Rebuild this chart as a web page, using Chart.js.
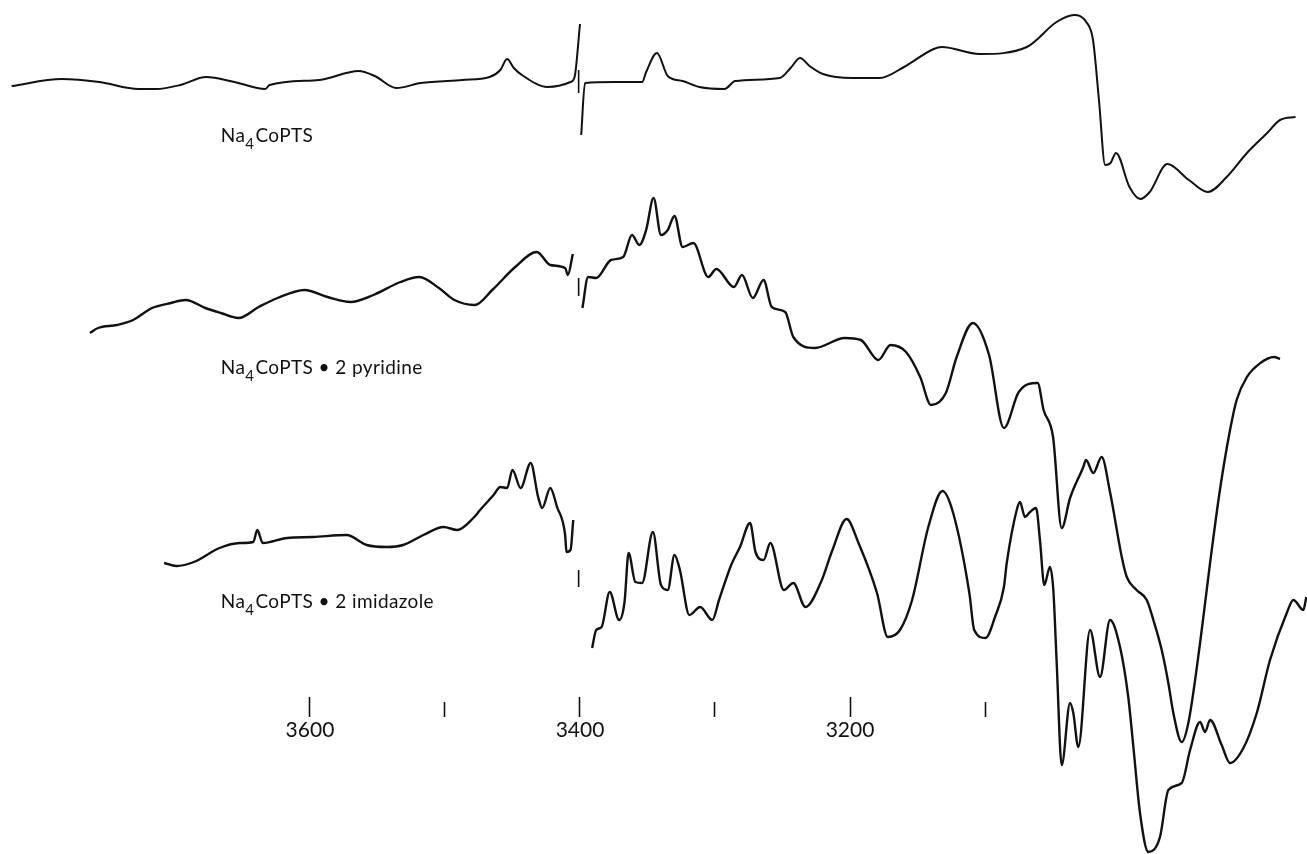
<!DOCTYPE html>
<html>
<head>
<meta charset="utf-8">
<script src="https://cdn.jsdelivr.net/npm/chart.js@4.4.1/dist/chart.umd.min.js"></script>
<style>
  html, body { margin: 0; padding: 0; background: #fff; }
  #wrap { width: 1307px; height: 854px; position: relative; }
</style>
</head>
<body>
<div id="wrap"><canvas id="chart"></canvas></div>
<script>
// magnetic field (G) and derivative signal (arb. units)
const field1 = [3821, 3784, 3756, 3727, 3714, 3696, 3677, 3656, 3633, 3630, 3593, 3564, 3552, 3536, 3518, 3487, 3467, 3459, 3454, 3449, 3443, 3424, 3407, 3404, 3400, 3399.6, 3399.1, 3396.3, 3374, 3354, 3351, 3343, 3335, 3324, 3311.5, 3293, 3285, 3252, 3244, 3237, 3230, 3220, 3198, 3178, 3160, 3138, 3132, 3104, 3069, 3047, 3034, 3025, 3020, 3015.6, 3011, 3007, 3003, 2993, 2985, 2978, 2965, 2949, 2935, 2921, 2906, 2891, 2881.5, 2870];
const signal1 = [-1, 6, 3, -4, -4, 0, 8, 3, -4, 0, 5, 14, 9, -3, 2, 5, 8, 15, 26, 17, 10, -2, 3, 8, 61, null, -50, 2, 3, 3, 13, 32, 9, 4, -2, -4, 4, 7, 17, 27, 19, 11, 7, 7, 18, 36, 38, 31, 38, 63, 70, 63, 45, -15, -80, -78, -68, -102, -114, -107, -79, -95, -107, -92, -68, -48, -35, -32];

const field2 = [3763, 3757, 3743, 3731, 3717, 3703, 3692, 3677.5, 3666, 3653, 3638, 3624, 3604, 3587, 3570, 3553, 3533, 3519, 3504.5, 3493, 3478, 3465, 3448, 3432, 3422, 3411, 3409, 3405.3, 3402, 3398.2, 3394, 3388, 3377, 3368, 3361.5, 3356, 3351, 3345.5, 3340, 3335, 3330, 3324, 3316, 3305, 3299, 3286, 3280, 3272, 3264, 3258, 3248, 3242, 3226, 3204, 3192, 3179, 3170, 3158.5, 3148, 3140, 3129, 3121, 3109, 3097, 3086, 3075, 3061, 3056.6, 3049.6, 3043.2, 3037, 3027.2, 3025.2, 3019.8, 3013.6, 3007.4, 2998.7, 2995, 2987.7, 2980.2, 2975.3, 2969.1, 2964.2, 2960.5, 2954.3, 2949.4, 2940.7, 2933.3, 2926, 2918.5, 2913.6, 2906, 2896, 2886, 2881.5];
const signal2 = [-33, -28, -25, -20, -8, -3, 0, -8, -13, -18, -7, 2, 10, 3, -2, 5, 18, 23, 12, 0, -5, 10, 33, 48, 35, 32, 25, 46, null, -8, 23, 22, 40, 43, 65, 55, 70, 102, 65, 70, 84, 53, 57, 23, 31, 13, 25, 2, 20, -7, -12, -37, -48, -38, -40, -60, -45, -52, -77, -105, -93, -57, -23, -55, -128, -92, -83, -110, -137, -228, -198, -167, -160, -173, -157, -192, -257, -277, -290, -300, -320, -350, -383, -413, -442, -423, -343, -263, -190, -130, -100, -77, -63, -57, -59];

const field3 = [3708, 3699, 3686, 3667, 3652, 3642, 3639, 3635, 3617, 3598, 3573, 3558, 3543, 3531, 3516, 3501, 3491, 3479, 3474, 3464, 3459, 3454, 3450, 3444, 3436.5, 3431, 3428, 3422, 3417, 3411, 3410, 3407, 3405, 3398, 3391, 3388, 3384, 3378, 3371, 3367, 3364, 3359, 3354, 3346, 3340, 3335, 3330, 3326, 3319, 3311, 3302, 3297, 3288, 3281.5, 3274, 3270, 3264, 3259, 3249, 3242, 3233, 3221.5, 3213, 3202.5, 3194, 3180, 3172, 3163, 3154, 3142, 3131.5, 3123.6, 3111.6, 3108, 3099.6, 3092.6, 3086, 3083.9, 3076.5, 3074.1, 3070.4, 3066.7, 3062.2, 3059.3, 3056.1, 3051.9, 3049.4, 3046.9, 3043.2, 3037, 3034.6, 3030.9, 3022.2, 3014.8, 3007.4, 3000, 2993.9, 2990.1, 2985.2, 2979, 2970.4, 2964.2, 2954.3, 2948.1, 2940.7, 2937, 2933.3, 2924.7, 2918.5, 2908.6, 2898.7, 2888.9, 2876.5, 2871.6, 2864.2, 2862];
const signal3 = [-18, -21, -17, -3, 2, 3, 15, 2, 7, 8, 10, 0, -2, 0, 10, 18, 15, 27, 35, 50, 58, 57, 75, 57, 82, 48, 37, 57, 38, 10, -7, -5, 25, null, -103, -85, -82, -47, -75, -57, -8, -37, -38, 13, -40, -45, -10, -25, -70, -62, -75, -55, -20, -2, 22, -7, -15, 2, -45, -38, -62, -37, -5, 26, 3, -48, -92, -85, -55, 18, 54, 32, -48, -85, -93, -72, -42, -18, 35, 43, 28, 33, 37, 5, -40, -22, -45, -118, -220, -158, -168, -202, -85, -132, -75, -102, -152, -202, -268, -307, -292, -245, -238, -205, -177, -187, -175, -200, -218, -203, -168, -115, -68, -55, -65, -52];

// vertical offsets of the three stacked spectra
const offsets = [769, 554, 309];
const sampleNames = ['Na4CoPTS', 'Na4CoPTS \u2022 2 pyridine', 'Na4CoPTS \u2022 2 imidazole'];
const nameLevels = [712, 480, 246];

// DPPH field marker bars
const markerField = 3401;
const markerSpans = [[15, -8], [22, 4], [-25, -42]];

const majorTicks = [3600, 3400, 3200];
const minorTicks = [3500, 3300, 3100];

function toPoints(fields, signals, offset) {
    return fields.map((f, i) => ({ x: f, y: signals[i] === null ? null : signals[i] + offset }));
}

const ink = '#111';

const traces = [
    toPoints(field1, signal1, offsets[0]),
    toPoints(field2, signal2, offsets[1]),
    toPoints(field3, signal3, offsets[2]),
];

const datasets = traces.map((pts, i) => ({
    label: sampleNames[i],
    data: pts,
    borderColor: ink,
    borderWidth: i === 0 ? 2 : 2.4,
    pointRadius: 0,
    cubicInterpolationMode: 'monotone',
    spanGaps: false,
}));

markerSpans.forEach((span, i) => {
    datasets.push({
        label: 'marker' + i,
        data: span.map(s => ({ x: markerField, y: s + offsets[i] })),
        borderColor: ink,
        borderWidth: 1.6,
        pointRadius: 0,
    });
});

// sample names, with the 4 set as a subscript
const labelPlugin = {
    id: 'sampleLabels',
    afterDatasetsDraw(chart) {
        const ctx = chart.ctx;
        const xs = chart.scales.x;
        const ys = chart.scales.y;
        ctx.save();
        ctx.fillStyle = ink;
        ctx.textBaseline = 'alphabetic';
        ctx.letterSpacing = '0.4px';
        sampleNames.forEach((name, i) => {
            let x = xs.getPixelForValue(3666);
            const y = ys.getPixelForValue(nameLevels[i]);
            const pieces = [[name.slice(0, 2), false], [name.slice(2, 3), true], [name.slice(3), false]];
            pieces.forEach(([txt, sub]) => {
                ctx.font = sub ? '15px Lato' : '19px Lato';
                ctx.fillText(txt, x, sub ? y + 7 : y);
                x += ctx.measureText(txt).width + (sub ? 1 : 0);
            });
        });
        ctx.restore();
    }
};

function fieldAxis(ticks, level, len, labelled) {
    return {
        type: 'linear',
        reverse: true,
        min: 2861.5,
        max: 3829.6,
        position: { y: level },
        afterBuildTicks: (axis) => {
            axis.ticks = ticks.map(v => ({ value: v }));
        },
        ticks: {
            autoSkip: false,
            maxRotation: 0,
            padding: 1,
            color: ink,
            font: { family: 'Lato', size: 21 },
            callback: (v) => labelled ? String(v) : '',
        },
        grid: {
            drawOnChartArea: false,
            drawTicks: true,
            tickLength: len,
            tickWidth: 1.6,
            tickColor: ink,
        },
        border: { display: false },
    };
}

const config = {
    type: 'line',
    data: { datasets: datasets },
    options: {
        responsive: true,
        maintainAspectRatio: false,
        animation: false,
        layout: { padding: 0 },
        plugins: { legend: { display: false }, tooltip: { enabled: false } },
        scales: {
            x: fieldAxis(majorTicks, 157, 20, true),
            xMinor: fieldAxis(minorTicks, 152, 15, false),
            y: { display: false, min: 0, max: 854 },
        },
    },
    plugins: [labelPlugin],
};

// eslint-disable-next-line
const spectrumChart = new Chart(document.getElementById('chart'), config);
</script>
</body>
</html>
